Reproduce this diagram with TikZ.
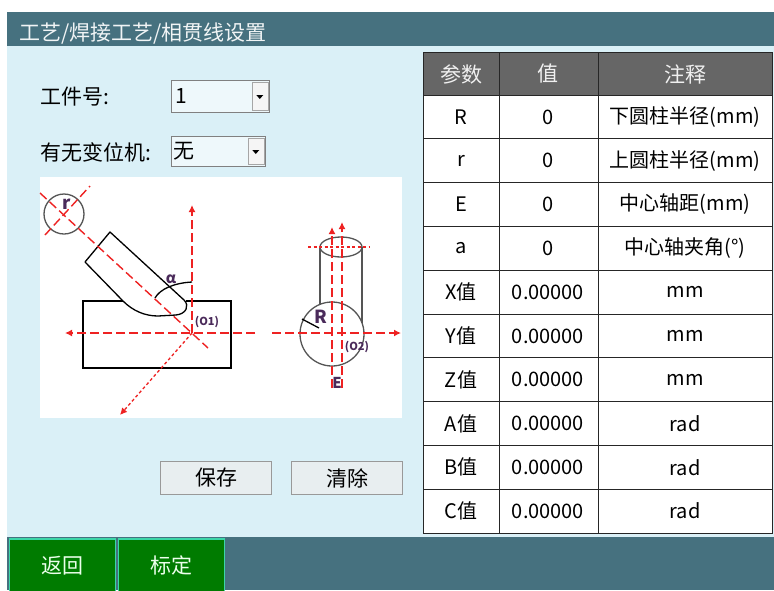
\documentclass[tikz,border=0pt]{standalone}
\usepackage{fontspec}
\setmainfont{Noto Sans CJK SC}
\usetikzlibrary{arrows.meta}
\definecolor{barteal}{HTML}{46717F}
\definecolor{panelblue}{HTML}{DAF0F7}
\definecolor{headgray}{HTML}{666666}
\definecolor{btngreen}{HTML}{007B00}
\definecolor{btnedge}{HTML}{3CD6A8}
\definecolor{axisred}{HTML}{EE2222}
\definecolor{labpurple}{HTML}{4A2A5A}
\definecolor{btngray}{HTML}{E8EEF0}
\definecolor{shapegray}{HTML}{555555}

\begin{document}
\begin{tikzpicture}[x=1pt,y=-1pt,
    txt/.style={font=\fontsize{21}{21}\selectfont, inner sep=0pt},
    cell/.style={font=\fontsize{20}{20}\selectfont, inner sep=0pt},
    combo/.style={draw=gray, fill=white!55!panelblue, line width=1pt, inner sep=0pt},
    dropbtn/.style={draw=gray!70, fill=gray!8, inner sep=0pt, minimum width=16pt},
    pushbtn/.style={draw=gray!80, fill=btngray, line width=1pt, inner sep=0pt,
        minimum width=111pt, minimum height=33pt, font=\fontsize{21}{21}\selectfont},
    navbtn/.style={draw=btnedge, fill=btngreen, line width=1.5pt, inner sep=0pt,
        minimum width=106pt, minimum height=53pt, text=white!92!green,
        font=\fontsize{21}{21}\selectfont},
    axis/.style={draw=axisred, line width=1.4pt, dash pattern=on 9pt off 4pt},
    fineaxis/.style={draw=axisred, line width=1.3pt, dash pattern=on 3pt off 2.5pt},
    tip/.style={-{Latex[length=7pt,width=7pt]}},
    lab/.style={text=labpurple, font=\bfseries, inner sep=0pt}
]
\useasboundingbox (0,0) rectangle (774,590);

% frame
\fill[white] (0,0) rectangle (774,590);
\fill[panelblue] (7,46) rectangle (774,537);
\fill[barteal] (7,12) rectangle (774,46);
\fill[barteal] (7,537) rectangle (774,590);
\node[txt, anchor=west, text=white!92!barteal] (title) at (19,34) {工艺/焊接工艺/相贯线设置};

% part number and positioner
\node[txt, anchor=west] (partlab) at (40,97) {工件号:};
\node[combo, anchor=north west, minimum width=98pt, minimum height=32pt] (partbox) at (171,80) {};
\node[txt, anchor=west] (partval) at ([xshift=4pt]partbox.west) {1};
\node[dropbtn, anchor=east, minimum height=28pt] (partdrop) at ([xshift=-2pt]partbox.east) {};
\fill (partdrop.center) +(-3.5,-1.5) -- +(3.5,-1.5) -- +(0,2.5) -- cycle;

\node[txt, anchor=west] (poslab) at (40,152) {有无变位机:};
\node[combo, anchor=north west, minimum width=94pt, minimum height=30pt] (posbox) at (171,136) {};
\node[txt, anchor=west] (posval) at ([xshift=2pt]posbox.west) {无};
\node[dropbtn, anchor=east, minimum height=26pt] (posdrop) at ([xshift=-2pt]posbox.east) {};
\fill (posdrop.center) +(-3.5,-1.5) -- +(3.5,-1.5) -- +(0,2.5) -- cycle;

% sketch
\fill[white] (40,177) rectangle (402,418);
\coordinate (o1) at (192,333);
\coordinate (o1up) at (192,205);
\coordinate (o1left) at (65,333);
\coordinate (o1right) at (255,333);
\coordinate (o1down) at (120,415);
\coordinate (tubetop) at (40,193);
\coordinate (tubeend) at (208,348);
\coordinate (cutlo) at (45,235);
\coordinate (cuthi) at (90,186);
\coordinate (o2) at (332,334);
\coordinate (o2left) at (272,333);
\coordinate (o2right) at (401,333);
\coordinate (ebase) at (332,388);
\coordinate (etop) at (332,227);
\coordinate (fbase) at (342,388);
\coordinate (ftop) at (342,222);
\coordinate (lidl) at (308,247);
\coordinate (lidr) at (370,247);

\draw[shapegray, line width=1.3pt] (64,214) circle (20);
\draw[shapegray, line width=1.3pt] (o2) circle (32);
\draw[shapegray, line width=1.3pt] (341,247) ellipse (21 and 10);
\draw[shapegray, line width=1.3pt] (320,247) -- (320,304);
\draw[shapegray, line width=1.3pt] (362,247) -- (362,323);

\draw[line width=1.3pt] (123,301) -- (83,301) -- (83,368) -- (231,368) -- (231,301) -- (186,301);
\draw[line width=1.3pt, line join=round] (184,300) -- (110,232) -- (85,262) -- (123,301)
    .. controls (133,311) and (145,316) .. (158,316) -- (176,315)
    .. controls (186,314) and (190,306) .. (184,300);
\draw[line width=1.3pt] (155,298) .. controls (160,289) and (174,283) .. (192,282);
\draw[line width=1.3pt] (302,319) -- (319,328);

\draw[axis] (tubetop) -- (tubeend);
\draw[axis] (cutlo) -- (cuthi);
\draw[axis, tip] (o1) -- (o1up);
\draw[axis, tip] (o1right) -- (o1left);
\draw[fineaxis, tip] (o1) -- (o1down);
\draw[axis, tip] (o2left) -- (o2right);
\draw[axis, tip] (ebase) -- (etop);
\draw[axis, tip] (fbase) -- (ftop);
\draw[fineaxis] (lidl) -- (lidr);

\node[lab, font=\fontsize{18}{18}\selectfont\bfseries] (rlab) at (67,204) {r};
\node[lab, font=\fontsize{15}{15}\selectfont\bfseries] (alab) at (171,279) {α};
\node[lab, font=\fontsize{11}{11}\selectfont\bfseries] (o1lab) at (207,322) {(O1)};
\node[lab, font=\fontsize{18}{18}\selectfont\bfseries] (Rlab) at (321,317) {R};
\node[lab, font=\fontsize{11}{11}\selectfont\bfseries] (o2lab) at (357,347) {(O2)};
\node[lab, font=\fontsize{15}{15}\selectfont\bfseries] (elab) at (337,383) {E};

% buttons
\node[pushbtn, anchor=north west] (save) at (160,461) {保存};
\node[pushbtn, anchor=north west] (clear) at (291,461) {清除};
\node[navbtn, anchor=north west] (back) at (8.5,538) {返回};
\node[navbtn, anchor=north west] (calib) at (117.5,538) {标定};

% parameter table
\fill[white] (423,95) rectangle (772,533);
\fill[headgray] (423,52) rectangle (772,95);
\node[txt, text=white!88!gray] (hpar) at (461,74) {参数};
\node[txt, text=white!88!gray] (hval) at (548,74) {值};
\node[txt, text=white!88!gray] (hnote) at (685,74) {注释};
\foreach \p/\v/\c [count=\i] in {R/0/{下圆柱半径(mm)}, r/0/{上圆柱半径(mm)}, E/0/{中心轴距(mm)},
    a/0/{中心轴夹角(°)}, X值/0.00000/mm, Y值/0.00000/mm, Z值/0.00000/mm,
    A值/0.00000/rad, B值/0.00000/rad, C值/0.00000/rad}{
    \node[cell] (par\i) at (461,{73.1+43.8*\i}) {\p};
    \node[cell] (val\i) at (548,{73.1+43.8*\i}) {\v};
    \node[cell] (note\i) at (685,{73.1+43.8*\i}) {\c};
    \draw[gray!30!black, line width=1pt] (423,{95+43.8*\i}) -- (772,{95+43.8*\i});
}
\draw[gray!30!black, line width=1pt] (423,52) rectangle (772,533);
\draw[gray!30!black, line width=1pt] (423,95) -- (772,95);
\draw[gray!30!black, line width=1pt] (499,52) -- (499,533);
\draw[gray!30!black, line width=1pt] (598,52) -- (598,533);

\end{tikzpicture}
\end{document}
